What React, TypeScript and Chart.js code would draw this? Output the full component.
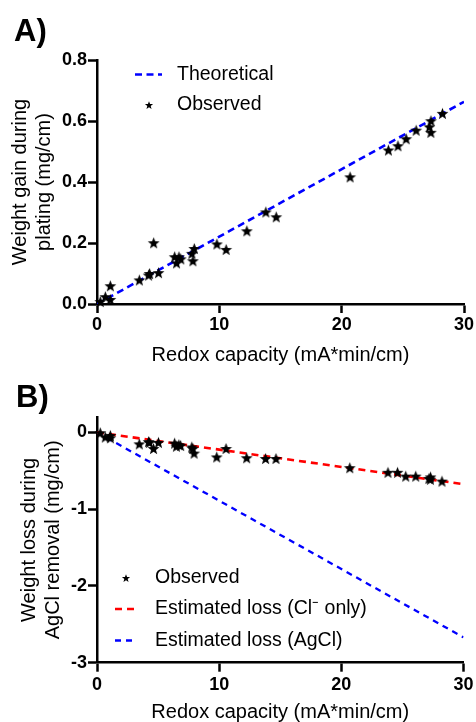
import React, { useEffect, useRef } from "react";
import { Chart, registerables } from "chart.js";

Chart.register(...registerables);

// ---- data ----
const redoxCapacity = [
  0.27, 0.68, 1.09, 1.09, 3.46, 4.22, 4.3, 4.63, 5.03, 6.35, 6.5, 6.7, 6.85,
  7.76, 7.84, 7.95, 9.8, 10.56, 12.25, 13.8, 14.65, 20.69, 23.82, 24.6, 25.27,
  26.09, 27.3, 27.17, 27.29, 28.24,
];
const weightGain = [
  0.008, 0.024, 0.015, 0.06, 0.079, 0.095, 0.1, 0.201, 0.103, 0.155, 0.135,
  0.155, 0.148, 0.166, 0.142, 0.182, 0.197, 0.179, 0.24, 0.302, 0.286, 0.417,
  0.505, 0.519, 0.542, 0.57, 0.601, 0.581, 0.563, 0.625,
];
const weightLoss = [
  -0.005, -0.06, -0.04, -0.07, -0.15, -0.12, -0.13, -0.21, -0.13, -0.14, -0.18,
  -0.16, -0.17, -0.19, -0.21, -0.27, -0.32, -0.21, -0.33, -0.34, -0.34, -0.46,
  -0.52, -0.52, -0.57, -0.57, -0.58, -0.6, -0.61, -0.635,
];
const lineX = [0, 30];
const theoreticalGain = [0, 0.663];
const estimatedLossCl = [0, -0.675];
const estimatedLossAgCl = [0, -2.67];

const xTicks = [0, 10, 20, 30];
const yTicksA = [0, 0.2, 0.4, 0.6, 0.8];
const yTicksB = [0, -1, -2, -3];

const labelsA = { theoretical: "Theoretical", observed: "Observed" };
const labelsB = {
  observed: "Observed",
  cl: "Estimated loss (Cl\u207B only)",
  agcl: "Estimated loss (AgCl)",
};
const xTitle = "Redox capacity (mA*min/cm)";
const yTitleA = ["Weight gain during", "plating (mg/cm)"];
const yTitleB = ["Weight loss during", "AgCl removal (mg/cm)"];

const FAMILY = "'Liberation Sans', Arial, Helvetica, sans-serif";

function makeStar(size: number, outer: number, inner: number) {
  const c = document.createElement("canvas");
  c.width = size;
  c.height = size;
  const ctx = c.getContext("2d")!;
  ctx.beginPath();
  const cy = size / 2 + outer * 0.1;
  for (let i = 0; i < 10; i++) {
    const r = i % 2 === 0 ? outer : inner;
    const a = -Math.PI / 2 + (i * Math.PI) / 5;
    const px = size / 2 + r * Math.cos(a);
    const py = cy + r * Math.sin(a);
    if (i === 0) ctx.moveTo(px, py);
    else ctx.lineTo(px, py);
  }
  ctx.closePath();
  ctx.fillStyle = "#000";
  ctx.fill();
  return c;
}

const pts = (xs: number[], ys: number[]) => xs.map((x, i) => ({ x, y: ys[i] }));

const insideLegend = {
  id: "insideLegend",
  afterDraw(chart: any, _a: any, opts: any) {
    const ctx = chart.ctx;
    ctx.save();
    ctx.font = opts.font;
    ctx.textBaseline = "middle";
    ctx.textAlign = "left";
    opts.order.forEach((di: number, row: number) => {
      const ds = chart.data.datasets[di];
      const y = opts.y + row * opts.rowH;
      if (ds.showLine) {
        ctx.save();
        ctx.strokeStyle = ds.borderColor;
        ctx.lineWidth = ds.borderWidth;
        ctx.setLineDash(ds.borderDash || []);
        ctx.beginPath();
        ctx.moveTo(opts.x, y);
        ctx.lineTo(opts.x + opts.sampleW, y);
        ctx.stroke();
        ctx.restore();
      } else {
        const img = opts.marker;
        ctx.drawImage(img, Math.round(opts.x + opts.sampleW / 2 - img.width / 2), Math.round(y - img.height / 2));
      }
      ctx.fillStyle = "#000";
      ctx.fillText(ds.label, opts.textX, y);
    });
    ctx.restore();
  },
};

const panelLabel = {
  id: "panelLabel",
  afterDraw(chart: any, _a: any, opts: any) {
    const ctx = chart.ctx;
    ctx.save();
    ctx.font = opts.font;
    ctx.fillStyle = "#000";
    ctx.textBaseline = "alphabetic";
    ctx.textAlign = "left";
    ctx.fillText(opts.text, opts.x, opts.y);
    ctx.restore();
  },
};

function axisCommon(extra: any) {
  return {
    type: "linear",
    border: { display: true, color: "#000", width: 2.5 },
    grid: {
      display: true,
      drawOnChartArea: false,
      drawTicks: true,
      tickLength: 9,
      tickWidth: 2.5,
      tickColor: "#000",
      color: "#000",
    },
    ...extra,
  };
}

function buildOptions(cfg: {
  yMin: number;
  yMax: number;
  yTicks: number[];
  yFmt: (v: number) => string;
  yTitle: string[];
  yTitlePad: number;
  padTop: number;
  padRight: number;
  xHeight: number;
  xTickPad: number;
  xTitlePad: number;
  legend: any;
  label: any;
}) {
  return {
    responsive: false,
    animation: false,
    layout: { padding: { top: cfg.padTop, right: cfg.padRight, left: 0, bottom: 0 } },
    plugins: {
      legend: { display: false },
      tooltip: { enabled: false },
      insideLegend: cfg.legend,
      panelLabel: cfg.label,
    },
    scales: {
      x: axisCommon({
        min: 0,
        max: 30,
        afterBuildTicks: (ax: any) => {
          ax.ticks = xTicks.map((v) => ({ value: v }));
        },
        afterFit: (ax: any) => {
          ax.height = cfg.xHeight;
        },
        ticks: {
          color: "#000",
          padding: cfg.xTickPad,
          font: { family: FAMILY, size: 18, weight: "bold", lineHeight: 1.2 },
          callback: (v: any) => String(v),
        },
        title: {
          display: true,
          text: xTitle,
          color: "#000",
          font: { family: FAMILY, size: 20, lineHeight: 1 },
          padding: { top: 0, bottom: cfg.xTitlePad },
        },
      }),
      y: axisCommon({
        min: cfg.yMin,
        max: cfg.yMax,
        afterBuildTicks: (ax: any) => {
          ax.ticks = cfg.yTicks.map((v) => ({ value: v }));
        },
        afterFit: (ax: any) => {
          ax.width = 97;
        },
        ticks: {
          color: "#000",
          padding: 1,
          font: { family: FAMILY, size: 18, weight: "bold", lineHeight: 1.2 },
          callback: (v: any) => cfg.yFmt(Number(v)),
        },
        title: {
          display: true,
          text: cfg.yTitle,
          color: "#000",
          font: { family: FAMILY, size: 20, lineHeight: 1.2 },
          padding: { top: cfg.yTitlePad, bottom: 0 },
        },
      }),
    },
  };
}

export default function App() {
  const refA = useRef<HTMLCanvasElement>(null);
  const refB = useRef<HTMLCanvasElement>(null);

  useEffect(() => {
    const star = makeStar(13, 6.2, 2.6);
    const legendStar = makeStar(10, 4.3, 1.8);

    const chartA = new Chart(refA.current!, {
      type: "scatter",
      data: {
        datasets: [
          {
            label: labelsA.observed,
            data: pts(redoxCapacity, weightGain),
            pointStyle: star as any,
            pointRadius: 6,
            clip: false as any,
            order: 0,
          },
          {
            label: labelsA.theoretical,
            data: pts(lineX, theoreticalGain),
            showLine: true,
            borderColor: "#0000ff",
            borderWidth: 2.6,
            borderDash: [7, 4.5],
            pointRadius: 0,
            order: 1,
          },
        ],
      } as any,
      options: buildOptions({
        yMin: 0,
        yMax: 0.8,
        yTicks: yTicksA,
        yFmt: (v) => v.toFixed(1),
        yTitle: yTitleA,
        yTitlePad: 8.5,
        padTop: 60,
        padRight: 12,
        xHeight: 66,
        xTickPad: 1,
        xTitlePad: 5,
        legend: {
          order: [1, 0],
          x: 135,
          sampleW: 27,
          textX: 177,
          y: 74.5,
          rowH: 30,
          font: `19.5px ${FAMILY}`,
          marker: legendStar,
        },
        label: { text: "A)", x: 14, y: 41, font: `bold 31px ${FAMILY}` },
      }) as any,
      plugins: [insideLegend, panelLabel],
    });

    const chartB = new Chart(refB.current!, {
      type: "scatter",
      data: {
        datasets: [
          {
            label: labelsB.observed,
            data: pts(redoxCapacity, weightLoss),
            pointStyle: star as any,
            pointRadius: 6,
            clip: false as any,
            order: 0,
          },
          {
            label: labelsB.cl,
            data: pts(lineX, estimatedLossCl),
            showLine: true,
            borderColor: "#ff0000",
            borderWidth: 2.6,
            borderDash: [7, 5],
            pointRadius: 0,
            order: 1,
          },
          {
            label: labelsB.agcl,
            data: pts(lineX, estimatedLossAgCl),
            showLine: true,
            borderColor: "#0000ff",
            borderWidth: 2.3,
            borderDash: [6, 5],
            pointRadius: 0,
            order: 2,
          },
        ],
      } as any,
      options: buildOptions({
        yMin: -3,
        yMax: 0.2,
        yTicks: yTicksB,
        yFmt: (v) => String(v),
        yTitle: yTitleB,
        yTitlePad: 17,
        padTop: 47,
        padRight: 11,
        xHeight: 59.3,
        xTickPad: 2.5,
        xTitlePad: 0,
        legend: {
          order: [0, 1, 2],
          x: 115,
          sampleW: 22,
          textX: 155,
          y: 207.5,
          rowH: 31.5,
          font: `19.5px ${FAMILY}`,
          marker: legendStar,
        },
        label: { text: "B)", x: 16, y: 37, font: `bold 31px ${FAMILY}` },
      }) as any,
      plugins: [insideLegend, panelLabel],
    });

    return () => {
      chartA.destroy();
      chartB.destroy();
    };
  }, []);

  return (
    <div style={{ position: "absolute", left: 0, top: 0, width: 476, height: 722, background: "#fff" }}>
      <canvas
        ref={refA}
        width={476}
        height={370}
        style={{ position: "absolute", left: 0, top: 0, width: 476, height: 370 }}
      />
      <canvas
        ref={refB}
        width={476}
        height={352}
        style={{ position: "absolute", left: 0, top: 370, width: 476, height: 352 }}
      />
    </div>
  );
}
